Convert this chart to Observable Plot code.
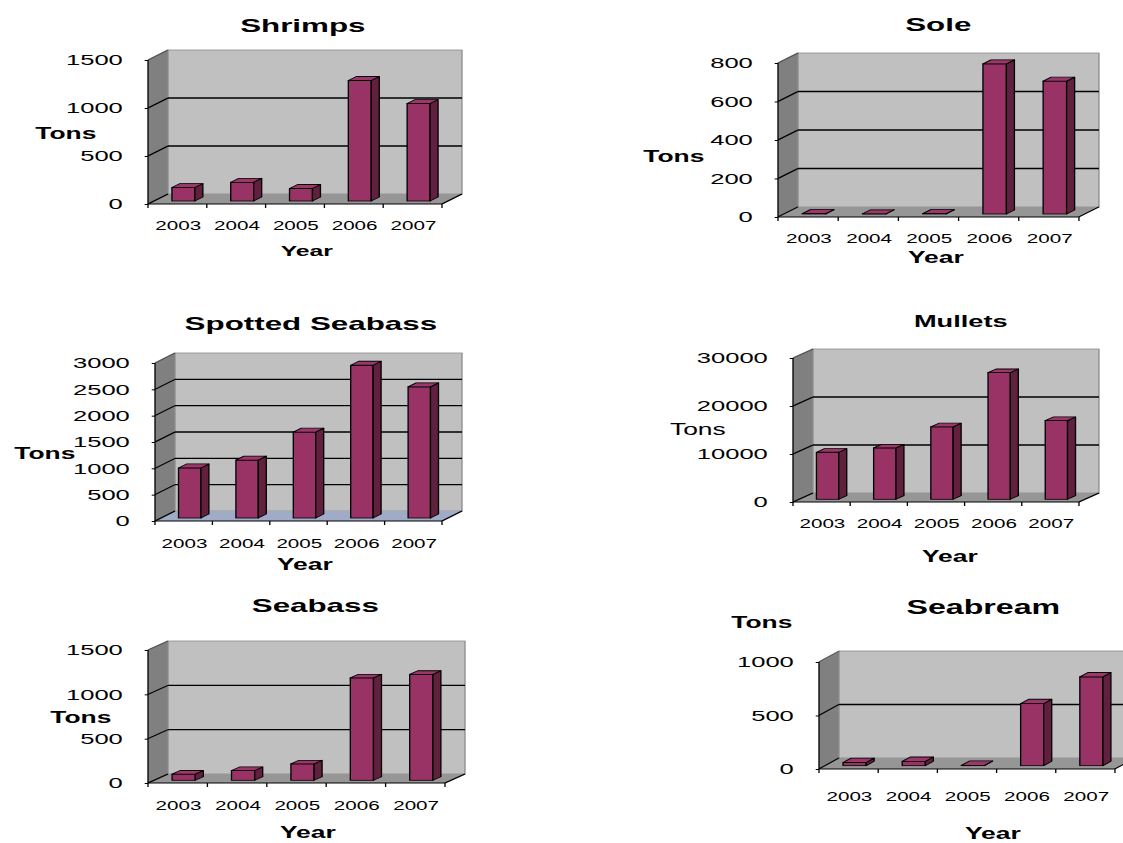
<!DOCTYPE html>
<html><head><meta charset="utf-8">
<script src="https://cdn.jsdelivr.net/npm/d3@7"></script>
<script src="https://cdn.jsdelivr.net/npm/@observablehq/plot@0.6"></script>
<style>
body{margin:0;background:#fff;}
#chart{position:relative;width:1123px;height:843px;overflow:hidden;background:#fff;}
.panel{position:absolute;transform-origin:0 0;}
.panel svg{overflow:visible;}
</style></head><body><div id="chart"></div>
<script>
// ---- data ----
const years = ["2003", "2004", "2005", "2006", "2007"];
const shrimps = [140, 195, 130, 1255, 1015];
const sole = [2, 1, 2, 780, 690];
const spottedSeabass = [950, 1100, 1630, 2900, 2490];
const mullets = [9800, 10700, 15100, 26400, 16400];
const seabass = [70, 110, 185, 1155, 1195];
const seabream = [30, 40, 3, 580, 830];

const shrimpsTicks = [0, 500, 1000, 1500];
const soleTicks = [0, 200, 400, 600, 800];
const spottedTicks = [0, 500, 1000, 1500, 2000, 2500, 3000];
const mulletsTicks = [0, 10000, 20000, 30000];
const seabassTicks = [0, 500, 1000, 1500];
const seabreamTicks = [0, 500, 1000];

const yLabel = "Tons";
const xLabel = "Year";

// ---- layout (final page pixels) ----
const S = 1.65; // horizontal stretch of the original picture
const FONT = "'Liberation Sans', Arial, sans-serif";
const panels = [
  {title: "Shrimps", values: shrimps, ticks: shrimpsTicks, box: [0, 0, 561, 280], xL: 148, xR: 442, y0: 204, yT: 60, D: [20, -10], floor: "#969696",
   titlePos: [302, 25], titleSize: 19, tonsPos: [65, 133], tonsWeight: "bold", yearPos: [306, 251], yearSize: 15, xlabY: 225},
  {title: "Sole", values: sole, ticks: soleTicks, box: [561, 0, 562, 280], xL: 778, xR: 1079, y0: 217, yT: 63, D: [20, -10], floor: "#969696",
   titlePos: [937.5, 24.5], titleSize: 19, tonsPos: [673, 156], tonsWeight: "bold", yearPos: [935, 257.5], yearSize: 16, xlabY: 238.5},
  {title: "Spotted Seabass", values: spottedSeabass, ticks: spottedTicks, box: [0, 290, 561, 290], xL: 155, xR: 442, y0: 521, yT: 363, D: [20, -10], floor: "#a0abc8",
   titlePos: [310, 323], titleSize: 19, tonsPos: [44, 453], tonsWeight: "bold", yearPos: [304, 564], yearSize: 16, xlabY: 543},
  {title: "Mullets", values: mullets, ticks: mulletsTicks, box: [561, 290, 562, 290], xL: 793, xR: 1079, y0: 502, yT: 358, D: [20, -9], floor: "#969696",
   titlePos: [960, 321.5], titleSize: 16.5, tonsPos: [697, 429], tonsWeight: "normal", yearPos: [949, 556], yearSize: 16, xlabY: 523.5},
  {title: "Seabass", values: seabass, ticks: seabassTicks, box: [0, 580, 561, 263], xL: 148, xR: 445, y0: 783, yT: 650, D: [20, -9], floor: "#969696",
   titlePos: [314.5, 605], titleSize: 19, tonsPos: [80, 717.5], tonsWeight: "bold", yearPos: [307, 832], yearSize: 16, xlabY: 805},
  {title: "Seabream", values: seabream, ticks: seabreamTicks, box: [561, 580, 562, 263], xL: 819, xR: 1115, y0: 769, yT: 662, D: [20, -11], floor: "#969696",
   titlePos: [982.5, 607], titleSize: 19.5, tonsPos: [761, 622], tonsWeight: "bold", yearPos: [992, 833], yearSize: 16, xlabY: 796}
];

const FRONT = "#993366", SIDE = "#62203f", TOP = "#9c3769";
const BAR_FRAC = 0.39, BAR_Z0 = 0.3, BAR_DEPTH = 0.4;

function pts(a) { return a.map(p => p.join(",")).join(" "); }

function walls(cfg) {
  return (index, scales, values, dim) => {
    const y = scales.y;
    const xL = dim.marginLeft, xR = dim.width - dim.marginRight;
    const y0 = y(0), yT = y(cfg.ticks[cfg.ticks.length - 1]);
    const dx = cfg.D[0] / S, dy = cfg.D[1];
    const g = d3.create("svg:g");
    g.append("polygon").attr("points", pts([[xL, y0], [xL, yT], [xL + dx, yT + dy], [xL + dx, y0 + dy]]))
      .attr("fill", "#808080");
    g.append("rect").attr("x", xL + dx).attr("y", yT + dy).attr("width", xR - xL).attr("height", y0 - yT)
      .attr("fill", "#c0c0c0").attr("stroke", "#8c8c8c").attr("stroke-width", 0.8);
    g.append("polygon").attr("points", pts([[xL, y0], [xR, y0], [xR + dx, y0 + dy], [xL + dx, y0 + dy]]))
      .attr("fill", cfg.floor);
    for (const t of cfg.ticks) {
      const yy = y(t);
      g.append("line").attr("x1", xL).attr("y1", yy).attr("x2", xL + dx).attr("y2", yy + dy)
        .attr("stroke", t === cfg.ticks[cfg.ticks.length - 1] ? "#555" : "#000").attr("stroke-width", 1);
      if (t !== 0 && t !== cfg.ticks[cfg.ticks.length - 1]) {
        g.append("line").attr("x1", xL + dx).attr("y1", yy + dy).attr("x2", xR + dx).attr("y2", yy + dy)
          .attr("stroke", "#000").attr("stroke-width", 1.3);
      }
    }
    g.append("line").attr("x1", xR).attr("y1", y0).attr("x2", xR + dx).attr("y2", y0 + dy).attr("stroke", "#000").attr("stroke-width", 1);
    g.append("line").attr("x1", xL).attr("y1", y0).attr("x2", xR).attr("y2", y0).attr("stroke", "#000").attr("stroke-width", 1.2);
    g.append("line").attr("x1", xL).attr("y1", y0).attr("x2", xL).attr("y2", yT).attr("stroke", "#000").attr("stroke-width", 0.8);
    const edges = years.map(d => scales.x(d)).concat([xR]);
    for (const e of edges) {
      g.append("line").attr("x1", e).attr("y1", y0).attr("x2", e).attr("y2", y0 + 4).attr("stroke", "#000").attr("stroke-width", 0.8);
    }
    return g.node();
  };
}

function barFaces(cfg, inset) {
  return (index, scales, values, dim) => {
    const g = d3.create("svg:g");
    const bw = scales.x.bandwidth ? scales.x.bandwidth() : (dim.width - dim.marginLeft - dim.marginRight) / years.length;
    const fdx = BAR_Z0 * cfg.D[0] / S, fdy = BAR_Z0 * cfg.D[1];
    const bdx = BAR_DEPTH * cfg.D[0] / S, bdy = BAR_DEPTH * cfg.D[1];
    years.forEach((yr, i) => {
      const x0 = scales.x(yr) + inset + fdx, x1 = scales.x(yr) + bw - inset + fdx;
      const yt = scales.y(cfg.values[i]) + fdy, yb = scales.y(0) + fdy;
      g.append("polygon").attr("points", pts([[x1, yt], [x1 + bdx, yt + bdy], [x1 + bdx, yb + bdy], [x1, yb]]))
        .attr("fill", SIDE).attr("stroke", "#000").attr("stroke-width", 0.8).attr("stroke-linejoin", "round");
      g.append("polygon").attr("points", pts([[x0, yt], [x1, yt], [x1 + bdx, yt + bdy], [x0 + bdx, yt + bdy]]))
        .attr("fill", TOP).attr("stroke", "#000").attr("stroke-width", 0.8).attr("stroke-linejoin", "round");
    });
    return g.node();
  };
}

const chart = document.getElementById("chart");
for (const cfg of panels) {
  const [Lf, Tf, Wf, Hf] = cfg.box;
  const width = Wf / S;
  const marginLeft = (cfg.xL - Lf) / S;
  const marginRight = (Lf + Wf - cfg.xR) / S;
  const marginTop = cfg.yT - Tf;
  const marginBottom = Tf + Hf - cfg.y0;
  const bw = (cfg.xR - cfg.xL) / S / years.length;
  const inset = bw * (1 - BAR_FRAC) / 2;
  const data = years.map((yr, i) => ({year: yr, value: cfg.values[i]}));
  const ymax = cfg.ticks[cfg.ticks.length - 1];
  const at = (p) => ({dx: (p[0] - Lf) / S - marginLeft, dy: p[1] - Tf - marginTop});
  const labelCap = 0.716 * 12.5;

  const plot = Plot.plot({
    width, height: Hf, marginLeft, marginRight, marginTop, marginBottom,
    style: {fontFamily: FONT, background: "transparent", overflow: "visible", color: "#000"},
    x: {type: "band", domain: years, padding: 0, round: false},
    y: {domain: [0, ymax], nice: false},
    marks: [
      walls(cfg),
      Plot.barY(data, {x: "year", y: "value", fill: FRONT, stroke: "#000", strokeWidth: 0.8,
        insetLeft: inset, insetRight: inset, dx: BAR_Z0 * cfg.D[0] / S, dy: BAR_Z0 * cfg.D[1]}),
      barFaces(cfg, inset),
      Plot.axisY({ticks: cfg.ticks, tickFormat: d => String(d), tickSize: 2, tickPadding: 26 / S - 2,
        fontSize: 15.5, label: null, stroke: "#000"}),
      Plot.axisX({tickSize: 0, tickPadding: cfg.xlabY - labelCap / 2 - cfg.y0, fontSize: 12.5, label: null}),
      Plot.text([cfg.title], {text: d => d, frameAnchor: "top-left", ...at(cfg.titlePos), fontSize: cfg.titleSize, fontWeight: "bold", textAnchor: "middle", lineAnchor: "middle"}),
      Plot.text([yLabel], {text: d => d, frameAnchor: "top-left", ...at(cfg.tonsPos), fontSize: 16, fontWeight: cfg.tonsWeight, textAnchor: "middle", lineAnchor: "middle"}),
      Plot.text([xLabel], {text: d => d, frameAnchor: "top-left", ...at(cfg.yearPos), fontSize: cfg.yearSize, fontWeight: "bold", textAnchor: "middle", lineAnchor: "middle"})
    ]
  });
  const div = document.createElement("div");
  div.className = "panel";
  div.style.left = Lf + "px";
  div.style.top = Tf + "px";
  div.style.width = width + "px";
  div.style.height = Hf + "px";
  div.style.transform = `scaleX(${S})`;
  div.appendChild(plot);
  chart.appendChild(div);
}
</script></body></html>
